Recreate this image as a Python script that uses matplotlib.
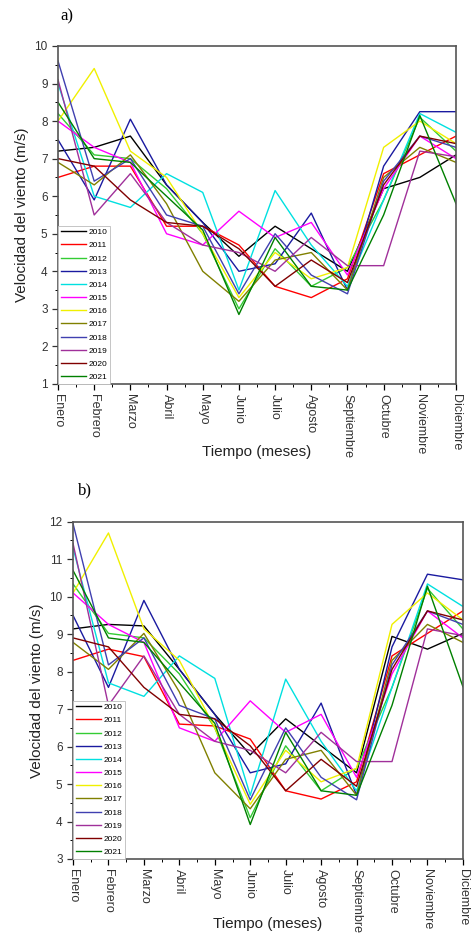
import matplotlib
matplotlib.use("Agg")
import matplotlib.pyplot as plt
from matplotlib.ticker import MultipleLocator

plt.rcParams['font.family'] = ['Liberation Sans', 'DejaVu Sans']

months = ["Enero", "Febrero", "Marzo", "Abril", "Mayo", "Junio", "Julio",
          "Agosto", "Septiembre", "Octubre", "Noviembre", "Diciembre"]
years = ["2010", "2011", "2012", "2013", "2014", "2015", "2016", "2017",
         "2018", "2019", "2020", "2021"]
colors = ["#000000", "#ff0000", "#33cc33", "#1a1aa0", "#00e0e0", "#ff00ff",
          "#f0f000", "#808000", "#4040b0", "#a0309a", "#800000", "#008000"]

# Panel a) monthly mean wind speed (m/s)
a_2010 = [7.2, 7.3, 7.6, 6.3, 5.3, 4.4, 5.2, 4.6, 4.0, 6.2, 6.5, 7.1]
a_2011 = [6.5, 6.8, 6.8, 5.2, 5.2, 4.7, 3.6, 3.3, 3.8, 6.6, 7.1, 7.6]
a_2012 = [8.2, 7.1, 7.0, 6.2, 5.0, 3.0, 4.6, 3.6, 4.1, 5.9, 8.1, 7.2]
a_2013 = [7.5, 5.9, 8.05, 6.3, 5.3, 4.0, 4.2, 5.55, 3.5, 6.8, 8.25, 8.25]
a_2014 = [9.0, 6.0, 5.7, 6.6, 6.1, 3.5, 6.15, 4.7, 3.6, 5.9, 8.2, 7.7]
a_2015 = [8.0, 7.3, 6.9, 5.0, 4.7, 5.6, 4.9, 5.3, 3.9, 6.2, 7.6, 7.0]
a_2016 = [8.0, 9.4, 7.2, 6.5, 5.0, 3.3, 4.5, 3.8, 4.1, 7.3, 8.0, 7.4]
a_2017 = [6.9, 6.3, 7.1, 5.8, 4.0, 3.2, 4.3, 4.5, 3.5, 6.5, 7.3, 6.9]
a_2018 = [9.6, 6.4, 7.0, 5.5, 5.2, 3.4, 5.0, 3.9, 3.4, 6.4, 7.6, 7.3]
a_2019 = [9.1, 5.5, 6.6, 5.3, 4.7, 4.5, 4.0, 4.9, 4.15, 4.15, 7.2, 7.05]
a_2020 = [7.0, 6.8, 5.9, 5.3, 5.2, 4.6, 3.6, 4.3, 3.7, 6.3, 7.6, 7.4]
a_2021 = [8.5, 7.0, 6.9, 6.0, 5.1, 2.85, 4.9, 3.6, 3.5, 5.5, 8.15, 5.8]

# Panel b) monthly mean wind speed (m/s)
b_2010 = [9.14, 9.26, 9.22, 8.06, 6.86, 5.78, 6.74, 6.02, 5.3, 8.94, 8.6, 9.02]
b_2011 = [8.3, 8.6, 8.4, 6.6, 6.55, 6.2, 4.82, 4.6, 5.06, 8.42, 9.02, 9.62]
b_2012 = [10.34, 9.02, 8.9, 7.94, 6.5, 4.1, 6.02, 4.82, 5.42, 7.58, 10.22, 9.14]
b_2013 = [9.5, 7.58, 9.9, 8.06, 6.86, 5.3, 5.54, 7.16, 4.7, 8.66, 10.6, 10.45]
b_2014 = [11.3, 7.7, 7.34, 8.42, 7.82, 4.7, 7.8, 6.14, 4.82, 7.58, 10.34, 9.74]
b_2015 = [10.1, 9.26, 8.78, 6.5, 6.14, 7.22, 6.38, 6.86, 5.18, 7.94, 9.62, 8.9]
b_2016 = [10.1, 11.7, 9.14, 8.3, 6.5, 4.46, 5.9, 5.06, 5.42, 9.26, 10.1, 9.38]
b_2017 = [8.78, 8.06, 9.02, 7.46, 5.3, 4.34, 5.66, 5.9, 4.7, 8.3, 9.26, 8.78]
b_2018 = [11.95, 8.18, 8.9, 7.1, 6.74, 4.58, 6.5, 5.18, 4.58, 8.18, 9.62, 9.26]
b_2019 = [11.42, 7.1, 8.42, 6.86, 6.14, 5.9, 5.3, 6.38, 5.6, 5.6, 9.14, 8.96]
b_2020 = [8.9, 8.66, 7.58, 6.86, 6.74, 6.02, 4.82, 5.66, 4.94, 8.06, 9.62, 9.38]
b_2021 = [10.7, 8.9, 8.78, 7.7, 6.62, 3.92, 6.38, 4.82, 4.7, 7.1, 10.28, 7.6]

series_a = [a_2010, a_2011, a_2012, a_2013, a_2014, a_2015, a_2016, a_2017,
            a_2018, a_2019, a_2020, a_2021]
series_b = [b_2010, b_2011, b_2012, b_2013, b_2014, b_2015, b_2016, b_2017,
            b_2018, b_2019, b_2020, b_2021]

fig = plt.figure(figsize=(4.72, 9.34), dpi=100)
ax1 = fig.add_axes([0.1229, 0.5889, 0.8432, 0.3619])
ax2 = fig.add_axes([0.1547, 0.0803, 0.826, 0.3611])


def style(ax, series, ylim, ymaj, xlab_y):
    x = list(range(len(months)))
    for yr, vals, c in zip(years, series, colors):
        ax.plot(x, vals, color=c, lw=1.0, label=yr)
    ax.set_xlim(0, 11)
    ax.set_ylim(*ylim)
    ax.set_xticks(x)
    ax.set_xticklabels(months, rotation=270, fontsize=9, color="#333333")
    ax.xaxis.set_minor_locator(MultipleLocator(0.5))
    ax.yaxis.set_major_locator(MultipleLocator(ymaj))
    ax.yaxis.set_minor_locator(MultipleLocator(0.5))
    ax.tick_params(axis="y", labelsize=8.5, colors="#333333")
    ax.tick_params(which="major", direction="out", length=4, width=0.9)
    ax.tick_params(which="minor", direction="out", length=2, width=0.7)
    for s in ax.spines.values():
        s.set_linewidth(1.2)
        s.set_color("#555555")
    ax.set_ylabel("Velocidad del viento (m/s)", fontsize=11, color="#222222")
    ax.set_xlabel("Tiempo (meses)", fontsize=11, color="#222222", va="center")
    ax.xaxis.set_label_coords(0.5, xlab_y)
    leg = ax.legend(loc="lower left", fontsize=6, handlelength=3.0,
                    labelspacing=0.64, borderpad=0.3, handletextpad=0.3,
                    borderaxespad=0.05, fancybox=False, framealpha=1)
    leg.get_frame().set_edgecolor("#bbbbbb")
    leg.get_frame().set_linewidth(0.6)


style(ax1, series_a, (1, 10), 1, -0.201)
style(ax2, series_b, (3, 12), 1, -0.193)

fig.text(0.127, 0.982, "a)", fontsize=12, family="Liberation Serif", va="center")
fig.text(0.165, 0.475, "b)", fontsize=12, family="Liberation Serif", va="center")

fig.savefig("out.png", dpi=100)
